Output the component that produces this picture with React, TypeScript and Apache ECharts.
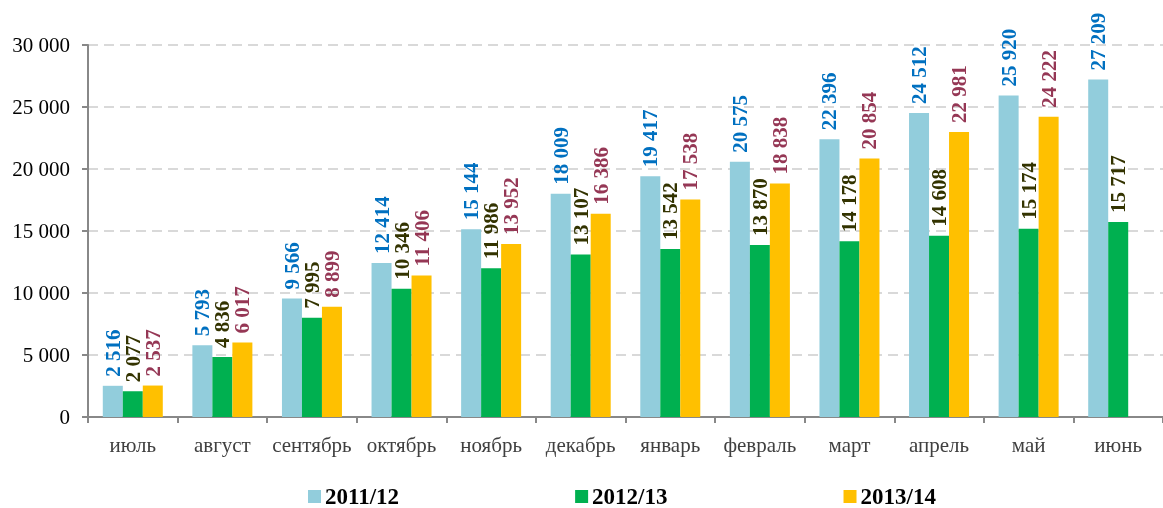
import React, { useEffect, useRef } from "react";
import * as echarts from "echarts";

const categories = ["июль", "август", "сентябрь", "октябрь", "ноябрь", "декабрь", "январь", "февраль", "март", "апрель", "май", "июнь"];
const seriesNames = ["2011/12", "2012/13", "2013/14"];
const values2011 = [2516, 5793, 9566, 12414, 15144, 18009, 19417, 20575, 22396, 24512, 25920, 27209];
const values2012 = [2077, 4836, 7995, 10346, 11986, 13107, 13542, 13870, 14178, 14608, 15174, 15717];
const values2013: (number | null)[] = [2537, 6017, 8899, 11406, 13952, 16386, 17538, 18838, 20854, 22981, 24222, null];
const barColors = ["#92CDDC", "#00B050", "#FFC000"];
const labelColors = ["#0070C0", "#333300", "#953755"];

const fmt = (v: number) => {
  const s = Math.round(v).toString();
  return s.replace(/\B(?=(\d{3})+(?!\d))/g, " ");
};

const FONT = "'Liberation Serif', 'Times New Roman', serif";

export default function App() {
  const ref = useRef<HTMLDivElement>(null);
  useEffect(() => {
    if (!ref.current) return;
    const chart = echarts.init(ref.current, undefined, { renderer: "svg" });
    const data = [values2011, values2012, values2013];
    chart.setOption({
      animation: false,
      textStyle: { fontFamily: FONT },
      grid: { left: 88, right: -7, top: 45, bottom: 91, containLabel: false },
      legend: {
        top: 485,
        left: 308,
        padding: 0,
        itemGap: 176,
        itemWidth: 13,
        itemHeight: 13,
        icon: "rect",
        textStyle: { fontFamily: FONT, fontSize: 23, lineHeight: 22, fontWeight: "bold", color: "#000", padding: [0, 0, 0, -1] },
        data: seriesNames,
      },
      xAxis: {
        type: "category",
        data: categories,
        axisLine: { lineStyle: { color: "#888", width: 2 } },
        axisTick: { show: true, length: 6, lineStyle: { color: "#888", width: 2 } },
        axisLabel: { interval: 0, fontFamily: FONT, fontSize: 21, color: "#404040", margin: 17 },
      },
      yAxis: {
        type: "value",
        min: 0,
        max: 30000,
        interval: 5000,
        axisLine: { show: true, lineStyle: { color: "#888", width: 2 } },
        axisTick: { show: true, length: 6, lineStyle: { color: "#888", width: 2 } },
        axisLabel: { fontFamily: FONT, fontSize: 21, color: "#000", margin: 18, formatter: (v: number) => fmt(v) },
        splitLine: { show: true, lineStyle: { color: "#d9d9d9", width: 2, type: [10, 6] } },
      },
      series: seriesNames.map((name, i) => ({
        name,
        type: "bar",
        data: data[i],
        barWidth: 20,
        barGap: "0%",
        itemStyle: { color: barColors[i] },
        label: {
          show: true,
          position: "top",
          rotate: 90,
          align: "left",
          verticalAlign: "middle",
          distance: 9,
          fontFamily: FONT,
          fontSize: 21,
          fontWeight: "bold",
          color: labelColors[i],
          formatter: (p: any) => (p.value == null ? "" : fmt(p.value)),
        },
      })),
    });
    return () => chart.dispose();
  }, []);
  return <div ref={ref} style={{ position: "fixed", left: 0, top: 0, width: 1163, height: 508 }} />;
}
